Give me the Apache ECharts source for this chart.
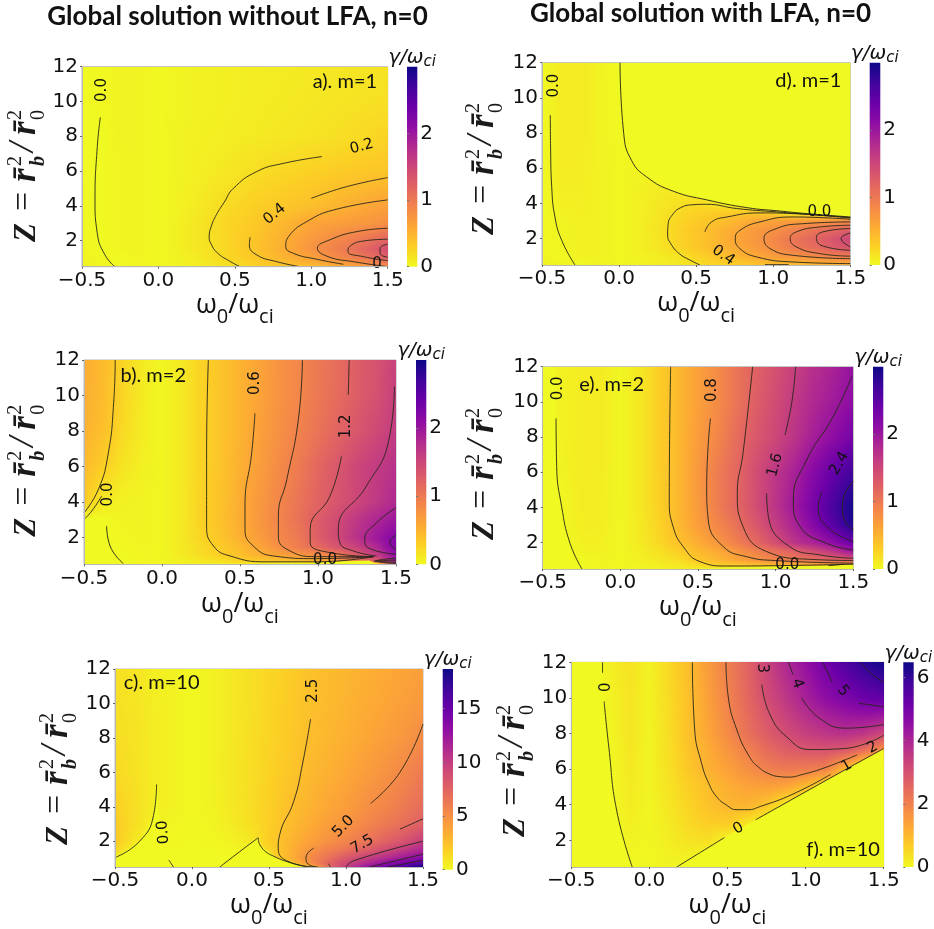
<!DOCTYPE html>
<html><head><meta charset="utf-8">
<style>html,body{margin:0;padding:0;background:#fff}#c{width:934px;height:929px}#c canvas{filter:blur(.35px)}</style>
<script src="https://cdn.jsdelivr.net/npm/echarts@6/dist/echarts.min.js"></script>
</head><body><div id="c"></div>
<script>
// ---------- shared axes ----------
const xCols = [-0.5,-0.375,-0.25,-0.125,0,0.125,0.25,0.375,0.5,0.625,0.75,0.875,1,1.125,1.25,1.375,1.5];
const xTicks = [-0.5,0,0.5,1,1.5];
const yTicks = [2,4,6,8,10,12];

// ---------- panel a ----------
const rowsA = [12,10,8,6,4,3,2,1.5,1,0.5];
const gammaA = [
[.00,.01,.04,.04,.01,.03,.05,.06,.07,.08,.09,.10,.11,.12,.13,.14,.15],
[.00,.01,.04,.04,.01,.03,.05,.06,.07,.09,.10,.11,.12,.14,.15,.17,.18],
[.00,.00,.04,.04,.01,.04,.06,.07,.09,.10,.12,.13,.15,.17,.20,.23,.26],
[.00,.00,.03,.04,.01,.04,.07,.10,.14,.19,.22,.25,.28,.31,.33,.35,.37],
[.01,.00,.03,.04,.01,.05,.10,.18,.24,.29,.33,.37,.41,.47,.53,.60,.65],
[.01,.00,.03,.04,.01,.06,.13,.21,.27,.33,.43,.51,.61,.65,.69,.73,.80],
[.02,.00,.03,.04,.01,.06,.13,.20,.29,.37,.47,.59,.72,.83,.95,1.08,1.25],
[.03,.00,.03,.04,.01,.06,.13,.19,.28,.37,.48,.61,.76,.88,1.03,1.22,1.42],
[.04,.01,.00,.03,.01,.05,.09,.19,.26,.34,.44,.53,.63,.79,.91,1.05,1.25],
[.06,.03,.00,.02,.01,.03,.07,.12,.18,.26,.33,.38,.43,.50,.58,.68,.80]];
const contoursA = [
[[-.38,9.09],[-.40,7.4],[-.415,4.34],[-.40,2.42],[-.35,1.18],[-.285,.5]],
[[.534,.5],[.46,.85],[.385,1.3],[.345,1.8],[.332,2.2],[.345,2.8],[.38,3.5],[.43,4.2],[.49,5.0],[.643,5.97],[.817,6.44],[1.07,6.83]],
[[.6,2.19],[.595,1.75],[.643,1.18],[.774,.79],[.926,.5]],
[[1.0,4.43],[1.23,5.1],[1.5,5.62]],
[[1.21,.64],[1.035,.93],[.883,1.27],[.833,1.66],[.86,2.33],[.97,3.09],[1.145,3.76],[1.5,4.34]],
[[1.5,2.71],[1.3,2.52],[1.12,2.04],[1.04,1.56],[1.11,1.08],[1.275,.79],[1.5,.5]],
[[1.5,2.08],[1.36,2.0],[1.25,1.66],[1.24,1.37],[1.34,1.08],[1.5,.85]],
[[1.5,1.79],[1.45,1.56],[1.45,1.27],[1.5,1.04]]];
const labelsA = [[-.37,10.66,'0.0'],[1.33,7.4,'0.2'],[.76,3.53,'0.4'],[1.43,.66,'0']];
const turnsA = [90,15,40,0];
const zeroA = [];

// ---------- panel b ----------
const rowsB = [12,10,8,6,4,3,2,1.5,1,0.7,0.5];
const gammaB = [
[.55,.44,.25,.10,.02,.12,.26,.38,.50,.62,.77,.88,1.0,1.12,1.27,1.38,1.55],
[.54,.43,.25,.09,.02,.12,.26,.38,.50,.63,.77,.88,1.01,1.13,1.27,1.39,1.58],
[.52,.40,.22,.09,.02,.12,.26,.38,.50,.65,.79,.92,1.05,1.2,1.33,1.48,1.62],
[.44,.30,.14,.06,.02,.12,.26,.38,.52,.68,.84,.99,1.17,1.33,1.5,1.62,1.73],
[.32,.10,.05,.04,.02,.12,.27,.39,.55,.72,.88,1.05,1.21,1.36,1.5,1.65,1.82],
[.00,.00,.04,.04,.02,.12,.27,.40,.55,.73,.90,1.07,1.27,1.46,1.67,1.84,2.0],
[.00,.00,.02,.04,.02,.12,.25,.37,.52,.68,.86,1.0,1.26,1.48,1.72,1.98,2.2],
[.00,.00,.01,.03,.02,.11,.22,.33,.45,.62,.80,.97,1.15,1.37,1.55,1.82,2.25],
[.00,.00,.00,.03,.02,.10,.20,.30,.40,.52,.63,.72,.83,.95,1.3,1.6,2.1],
[.00,.00,.00,.02,.02,.06,.12,.18,.28,.33,.37,.42,.50,.70,1.0,1.3,2.0],
[.00,.00,.00,.01,.01,.03,.06,.08,.10,.10,.10,.10,.10,.10,.15,.2,1.5]];
const contoursB = [
[[-.30,12],[-.31,9.57],[-.344,6.77],[-.408,4.71],[-.5,3.4]],
[[-.387,4.34],[-.45,3.5],[-.5,3.03]],
[[-.355,2.65],[-.333,1.53],[-.248,.54]],
[[.297,12],[.286,6.77],[.286,2.65],[.33,1.53],[.436,.97],[.67,.64],[.99,.64],[1.355,.93]],
[[.596,9],[.575,6.77],[.532,3.78],[.532,2.47],[.585,1.53],[.714,.97],[.99,.82],[1.355,.93]],
[[.9,12],[.874,8.64],[.8,5.27],[.746,3.2],[.746,2.1],[.8,1.35],[.99,.93],[1.355,.93]],
[[1.2,12],[1.194,10.04]],
[[1.15,6.58],[1.077,4.34],[.95,2.47],[.95,1.72],[1.077,1.16],[1.355,.93]],
[[1.49,10.5],[1.45,7.33],[1.31,4.9],[1.13,2.47],[1.14,1.72],[1.227,1.25],[1.376,.97]],
[[1.5,3.68],[1.376,2.84],[1.3,1.9],[1.32,1.44],[1.5,1.07]],
[[1.5,2.13],[1.46,1.72],[1.5,1.31]],
[[1.36,.68],[1.42,.78],[1.5,.84]],
[[1.36,.68],[1.42,.6],[1.5,.55]],
[[1.38,.68],[1.43,.72],[1.5,.74]],
[[1.38,.68],[1.43,.64],[1.5,.62]]];
const labelsB = [[-.344,4.43,'0.0'],[.6,10.7,'0.6'],[1.18,8.26,'1.2'],[1.045,.72,'0.0']];
const turnsB = [90,90,90,0];
const zeroB = [[[-.5,.5],[-.5,3.03],[-.42,3.3],[-.36,2.65],[-.333,1.53],[-.248,.5]],
[[.45,.5],[.7,.57],[1.0,.6],[1.2,.68],[1.33,.72],[1.36,.58],[1.4,.5]]];

// ---------- panel c ----------
const rowsC = [12,10,8,6,4,3,2,1.5,1,0.75,0.5];
const gammaC = [
[1.1,.9,.5,.3,.1,.3,.7,1.1,1.5,1.9,2.4,2.7,3.0,3.3,3.6,3.85,4.1],
[1.15,.9,.5,.3,.1,.3,.7,1.1,1.55,2.0,2.45,2.8,3.1,3.45,3.75,4.1,4.5],
[1.2,1.0,.55,.3,.1,.3,.7,1.15,1.6,2.05,2.6,2.95,3.3,3.7,4.15,4.6,5.2],
[1.4,1.05,.55,.3,.1,.3,.75,1.2,1.7,2.2,2.8,3.2,3.7,4.2,4.8,5.4,6.2],
[1.8,1.2,.5,.3,.1,.25,.7,1.2,1.8,2.5,3.1,3.7,4.2,4.9,5.5,6.2,7.0],
[2.0,1.2,.3,.2,.05,.2,.6,1.1,1.85,2.65,3.4,4.1,4.7,5.4,6.2,6.9,7.8],
[2.2,.8,.1,.1,.05,.1,.3,.7,1.9,2.9,3.9,4.8,5.6,6.4,7.5,8.5,9.9],
[1.5,.3,.05,.05,0,.05,.1,.3,1.6,3.0,4.5,5.7,6.6,7.8,9.0,10.2,11.5],
[.3,.1,.05,0,0,0,0,.1,1.0,3.0,5.0,6.6,8.2,9.7,11,12.3,13.5],
[.1,.05,0,0,0,0,0,0,.5,2.0,4.6,7.2,9.2,11,12.8,14.5,16],
[0,0,0,0,0,0,0,0,0,1.0,2.5,6.8,10,12.4,14.8,16.5,18.5]];
const contoursC = [
[[-.5,1.05],[-.34,2],[-.25,3.5],[-.23,5.3]],
[[-.15,.9],[-.12,.5]],
[[.18,.5],[.31,1.4],[.43,2.2]],
[[.43,2.2],[.44,1.8],[.55,1.05],[.755,.5]],
[[.77,9.1],[.72,6.6],[.66,4.3],[.57,2.4],[.56,1.6],[.615,.87],[.81,.5]],
[[.79,1.6],[.74,1.05],[.755,.67],[.82,.5]],
[[1.16,4.2],[1.35,6],[1.5,8.8]],
[[.885,.7],[.9,.5]],
[[1.35,2.7],[1.5,3.3]],
[[1.0,.5],[1.05,.87],[1.5,2]],
[[1.15,.5],[1.5,1.25]],
[[1.27,.5],[1.5,.9]]];
const labelsC = [[.788,10.74,'2.5'],[.983,2.86,'5.0'],[1.106,1.81,'7.5'],[-.186,2.52,'0.0']];
const turnsC = [90,45,30,95];
const zeroC = [[[-.5,.5],[-.5,1.05],[-.34,2],[-.25,3.5],[-.23,5.3],[-.2,2],[-.12,.5]],
[[.18,.5],[.31,1.4],[.43,2.2],[.44,1.8],[.55,1.05],[.755,.5]]];

// ---------- panel d ----------
const rowsD = [12,8,6,5,4,3.5,3,2.5,2,1.5,1,0.5];
const gammaD = [
[.00,.10,.10,.05,.00,0,0,0,0,0,0,0,0,0,0,0,0],
[.00,.10,.10,.05,.01,0,0,0,0,0,0,0,0,0,0,0,0],
[.00,.10,.09,.05,.02,.04,0,0,0,0,0,0,0,0,0,0,0],
[.00,.08,.08,.05,.02,.05,.09,.08,0,0,0,0,0,0,0,0,0],
[.00,.07,.07,.05,.02,.06,.12,.17,.20,.15,0,0,0,0,0,0,0],
[.00,.05,.07,.05,.02,.06,.12,.21,.27,.30,.31,.33,.25,0,0,0,0],
[.01,.04,.06,.05,.02,.06,.14,.24,.32,.38,.48,.58,.63,.67,.70,.74,.80],
[.01,.03,.06,.05,.02,.06,.15,.26,.36,.46,.57,.70,.78,.90,1.03,1.15,1.27],
[.01,.03,.06,.05,.02,.06,.13,.25,.35,.46,.60,.72,.85,1.02,1.17,1.33,1.5],
[.02,.02,.06,.05,.02,.06,.14,.24,.35,.46,.57,.69,.83,.98,1.12,1.27,1.4],
[.03,.00,.05,.05,.02,.05,.08,.15,.26,.38,.47,.58,.68,.76,.84,.92,1.0],
[.05,.03,.00,.04,.02,.03,.07,.10,.18,.25,.30,.36,.41,.41,.43,.47,.52]];
const contoursD = [
[[-.446,9.02],[-.444,7.03],[-.437,4.94],[-.416,3.23],[-.372,1.9],[-.286,.5]],
[[.006,12],[.03,7.98],[.08,6.46],[.18,5.5],[.35,4.7],[.57,4.2],[.83,3.76],[1.04,3.57],[1.22,3.42],[1.5,3.23]],
[[.525,.5],[.46,.78],[.39,1.15],[.335,1.72],[.315,2.2],[.318,2.8],[.352,3.42],[.40,3.76],[.47,3.92],[.568,3.95],[.763,3.71],[1.02,3.52],[1.5,3.2]],
[[.557,2.38],[.6,2.95],[.7,3.23],[.914,3.46],[1.13,3.42],[1.5,3.17]],
[[.946,.52],[1.1,.52]],
[[1.5,3.1],[1.13,3.23],[.914,2.95],[.784,2.47],[.754,2],[.784,1.43],[.892,.96],[1.13,.67],[1.5,.58]],
[[1.5,2.95],[1.195,2.85],[1.02,2.57],[.94,2],[.98,1.43],[1.13,1.05],[1.5,.86]],
[[1.5,2.76],[1.3,2.66],[1.15,2.38],[1.11,2],[1.15,1.53],[1.3,1.15],[1.5,1.0]],
[[1.5,2.57],[1.37,2.47],[1.28,2.06],[1.31,1.62],[1.5,1.34]],
[[1.5,2.32],[1.44,2],[1.5,1.53]]];
const labelsD = [[-.42,10.7,'0.0'],[1.30,3.48,'0.0'],[.676,1.05,'0.4']];
const turnsD = [90,0,-35];
const zeroD = [[[.006,12],[.03,7.98],[.08,6.46],[.18,5.5],[.35,4.7],[.57,4.2],[.83,3.76],[1.04,3.57],[1.22,3.42],[1.5,3.23],[1.5,12]]];

// ---------- panel e ----------
const rowsE = [12,10,8,6,4,3,2,1.5,1,0.75,0.5];
const gammaE = [
[.00,.05,.10,.10,.02,.12,.30,.47,.65,.83,1.05,1.23,1.40,1.58,1.75,1.88,2.05],
[.00,.05,.10,.10,.02,.12,.30,.47,.65,.83,1.05,1.26,1.45,1.64,1.82,1.96,2.12],
[.00,.05,.10,.10,.02,.12,.30,.47,.68,.87,1.13,1.32,1.50,1.70,1.92,2.12,2.30],
[.00,.04,.10,.09,.02,.12,.30,.47,.72,.97,1.17,1.43,1.67,1.90,2.17,2.45,2.70],
[.00,.02,.09,.08,.02,.12,.28,.47,.70,.95,1.18,1.42,1.70,1.98,2.30,2.65,2.95],
[.00,.02,.08,.08,.02,.11,.26,.46,.67,.87,1.08,1.33,1.60,1.88,2.20,2.55,2.90],
[.00,.00,.06,.07,.02,.10,.23,.39,.55,.72,.95,1.15,1.42,1.70,1.87,2.12,2.40],
[.00,.00,.04,.06,.02,.08,.17,.31,.45,.58,.75,.93,1.10,1.25,1.45,1.70,2.05],
[.01,.00,.00,.04,.02,.06,.12,.20,.37,.47,.60,.75,.90,1.00,1.10,1.20,1.30],
[.02,.00,.00,.03,.02,.04,.08,.12,.20,.30,.35,.40,.45,.48,.55,.60,.70],
[.03,.01,.00,.02,.01,.03,.05,.08,.10,.10,.10,.10,.10,.10,.10,.10,.10]];
const contoursE = [
[[-.414,9.06],[-.41,6.32],[-.378,4.05],[-.324,1.96],[-.247,.5]],
[[.324,12],[.315,4.42],[.34,2.9],[.405,1.77],[.513,.92],[.685,.67],[1.006,.69],[1.5,.77]],
[[.58,9.06],[.556,5.18],[.566,3.29],[.663,1.77],[.813,1.2],[1.0,.98],[1.5,.83]],
[[.852,12],[.79,7.08],[.753,4.8],[.79,2.91],[.942,1.49],[1.22,1.05],[1.5,.98]],
[[1.129,12],[1.103,9.92],[1.06,8.12]],
[[.942,4.8],[.953,3.48],[1.09,1.77],[1.285,1.3],[1.5,1.11]],
[[1.49,11.43],[1.37,9.16],[1.2,6.7],[1.114,4.42],[1.157,2.91],[1.328,1.96],[1.5,1.58]],
[[1.3,4.9],[1.275,4.05],[1.328,2.91],[1.5,2.06]],
[[1.5,5.47],[1.43,4.23],[1.436,3.48],[1.5,2.72]],
[[1.34,.69],[1.44,.77]]];
const labelsE = [[-.4,10.77,'0.0'],[.588,10.67,'0.8'],[.996,6.41,'1.6'],[1.41,6.5,'2.4'],[1.075,.73,'0.0']];
const turnsE = [90,90,75,60,0];
const zeroE = [[[-.5,.5],[-.5,12],[-.414,12],[-.414,9.06],[-.41,6.32],[-.378,4.05],[-.324,1.96],[-.247,.5]],
[[.45,.5],[.7,.6],[1.0,.64],[1.25,.67],[1.5,.75],[1.5,.5]]];

// ---------- panel f ----------
const rowsF = [12,10,8,7,6,5,4,3,2,1,0.5];
const gammaF = [
[0,0,.15,.35,.10,.50,.90,1.50,2.05,2.60,3.30,3.95,4.45,5.05,5.60,6.10,6.45],
[0,0,.10,.30,.10,.45,.85,1.40,1.98,2.50,3.10,3.60,4.10,4.55,4.85,5.15,5.35],
[0,0,.05,.30,.08,.42,.85,1.30,1.80,2.30,2.75,3.10,3.40,3.60,3.75,3.60,3.20],
[0,0,.03,.28,.08,.40,.80,1.20,1.60,2.00,2.40,2.70,2.85,2.90,2.75,2.30,1.50],
[0,0,0,.25,.08,.38,.75,1.10,1.40,1.72,2.03,2.15,2.10,2.00,1.00,0,0],
[0,0,0,.22,.07,.33,.62,.90,1.15,1.35,1.40,1.30,.90,.30,0,0,0],
[0,0,0,.20,.06,.28,.55,.85,1.03,1.10,.80,.20,0,0,0,0,0],
[0,0,0,.15,.05,.22,.48,.65,.70,.30,0,0,0,0,0,0,0],
[0,0,0,.10,.04,.18,.35,.40,.05,0,0,0,0,0,0,0,0],
[0,0,0,.02,.03,.12,.10,0,0,0,0,0,0,0,0,0,0],
[0,0,0,0,.02,.08,0,0,0,0,0,0,0,0,0,0,0]];
const contoursF = [
[[-.3,12],[-.3,11.4]],
[[-.29,9.8],[-.26,7.25],[-.21,3.7],[-.11,.5]],
[[.175,.5],[.48,2.15]],
[[.68,3.15],[1.24,5.9],[1.5,7.15]],
[[.275,12],[.29,8.2],[.335,6.3],[.38,5.2],[.43,4.45],[.49,4.0],[.56,3.72],[.63,3.72],[.71,3.9],[.92,4.6],[1.16,5.7]],
[[.49,12],[.505,10.05],[.56,8.2],[.64,6.7],[.7,6.1],[.77,5.72],[.83,5.58],[.89,5.55],[.98,5.7],[1.13,6.1],[1.33,6.8]],
[[.72,10.75],[.77,9.1],[.88,7.8],[1.03,7.1],[1.24,7.15],[1.5,7.9]],
[[.89,12],[.92,11.3]],
[[.975,10],[1.09,8.85],[1.26,8.3],[1.5,8.5]],
[[1.11,12],[1.17,10.9]],
[[1.34,9.7],[1.5,9.5]],
[[1.35,12],[1.43,11.3],[1.5,10.9]]];
const labelsF = [[-.278,10.6,'0'],[.57,2.66,'0'],[1.263,6.17,'1'],[1.43,7.22,'2'],[.72,11.66,'3'],[.947,10.8,'4'],[1.24,10.4,'5']];
const turnsF = [90,30,30,30,-90,-70,-50];
const zeroF = [[[-.5,.5],[-.11,.5],[-.21,3.7],[-.26,7.25],[-.29,9.8],[-.3,12],[-.5,12]],
[[.175,.5],[.48,2.15],[.68,3.15],[1.24,5.9],[1.5,7.15],[1.5,.5]]];

// ---------- colormap (plasma, reversed) ----------
const plasmaR = ['#f0f921','#fcce25','#fca636','#f2844b','#e16462','#cc4778','#b12a90','#8f0da4','#6a00a8','#41049d','#0d0887'];
const rgbR = plasmaR.map(h=>[parseInt(h.slice(1,3),16),parseInt(h.slice(3,5),16),parseInt(h.slice(5,7),16)]);
function cmap(t){t=Math.max(0,Math.min(1,t))*(rgbR.length-1);const i=Math.min(rgbR.length-2,Math.floor(t)),f=t-i;
  return [0,1,2].map(k=>rgbR[i][k]*(1-f)+rgbR[i+1][k]*f);}

// ---------- layout ----------
const panels = [
 {rows:rowsA,gamma:gammaA,lines:contoursA,marks:labelsA,turns:turnsA,zero:zeroA,tag:'a). m=1',tagAt:[1.22,11.14],box:[82,66.7,387.7,266.7],bar:[407,417.3],vmax:3,ticks:[0,1,2],titleAt:[36,242],gap:23},
 {rows:rowsB,gamma:gammaB,lines:contoursB,marks:labelsB,turns:turnsB,zero:zeroB,tag:'b). m=2',tagAt:[-.056,11.1],box:[84,360,396,564.3],bar:[416,426.3],vmax:3,ticks:[0,1,2],titleAt:[36,536.7],gap:27},
 {rows:rowsC,gamma:gammaC,lines:contoursC,marks:labelsC,turns:turnsC,zero:zeroC,tag:'c). m=10',tagAt:[-.197,11.2],box:[115,669,423,869.7],bar:[442.7,453],vmax:18.7,ticks:[0,5,10,15],titleAt:[68,845],gap:22},
 {rows:rowsD,gamma:gammaD,lines:contoursD,marks:labelsD,turns:turnsD,zero:zeroD,tag:'d). m=1',tagAt:[1.228,11],box:[542,62.7,850.3,265],bar:[869.7,880.3],vmax:3,ticks:[0,1,2],titleAt:[494,235],gap:24},
 {rows:rowsE,gamma:gammaE,lines:contoursE,marks:labelsE,turns:turnsE,zero:zeroE,tag:'e). m=2',tagAt:[-.056,11],box:[542.7,366.7,853.3,569],bar:[873,883.3],vmax:3,ticks:[0,1,2],titleAt:[494,540],gap:25},
 {rows:rowsF,gamma:gammaF,lines:contoursF,marks:labelsF,turns:turnsF,zero:zeroF,tag:'f). m=10',tagAt:[1.24,1.47],box:[571.3,662.3,883.7,867],bar:[903.3,913.7],vmax:6.48,ticks:[0,2,4,6],titleAt:[525,837],gap:24}
];

const INK='#111', FRAME='#b8b8b8', W=934, H=929;
const grids=[],xAxes=[],yAxes=[],series=[],graphics=[];
const rich = {
  w:{fontFamily:'Open Sans',fontSize:27,color:INK,lineHeight:36,verticalAlign:'top'},
  s:{fontFamily:'Open Sans',fontSize:20,color:INK,lineHeight:28,verticalAlign:'bottom'},
  g:{fontFamily:'DejaVu Sans',fontStyle:'italic',fontSize:20,color:INK,lineHeight:24},
  t:{fontFamily:'DejaVu Sans',fontStyle:'italic',fontSize:15,color:INK,lineHeight:18,verticalAlign:'bottom'}
};
const tickText=v=>(v<0?'\u2212':'')+Math.abs(v).toFixed(1);

panels.forEach((p,i)=>{
  const [l,t,r,b]=p.box, gi=i*2, ci=i*2+1;
  grids.push({left:l,top:t,width:r-l,height:b-t,show:true,borderColor:FRAME,borderWidth:1,backgroundColor:'transparent'});
  grids.push({left:p.bar[0],top:t,width:p.bar[1]-p.bar[0],height:b-t});
  xAxes.push({gridIndex:gi,type:'value',min:-.5,max:1.5,z:6,splitLine:{show:false},
    axisLine:{lineStyle:{color:FRAME}},axisTick:{length:2,lineStyle:{color:'#666'},customValues:xTicks},
    axisLabel:{customValues:xTicks,formatter:tickText,fontFamily:'DejaVu Sans',fontSize:20,color:INK,margin:4},
    name:'{w|\u03c9}{s|0}{w|/\u03c9}{s|ci}',nameLocation:'middle',nameGap:p.gap,nameTextStyle:{rich}});
  yAxes.push({gridIndex:gi,type:'value',min:.5,max:12,z:6,splitLine:{show:false},
    axisLine:{onZero:false,lineStyle:{color:FRAME}},axisTick:{length:2,lineStyle:{color:'#666'},customValues:yTicks},
    axisLabel:{customValues:yTicks,fontFamily:'DejaVu Sans',fontSize:20,color:INK,margin:4}});
  xAxes.push({gridIndex:ci,type:'value',min:0,max:1,show:false});
  yAxes.push({gridIndex:ci,type:'value',min:0,max:p.vmax,position:'right',z:6,splitLine:{show:false},
    axisLine:{show:false},axisTick:{length:2,lineStyle:{color:'#777'},customValues:p.ticks},
    axisLabel:{customValues:p.ticks,fontFamily:'DejaVu Sans',fontSize:20,color:INK,margin:3},
    name:'{g|\u03b3/\u03c9}{t|ci}',nameLocation:'end',nameGap:-3,nameTextStyle:{rich,align:'center',padding:[0,0,0,10]}});

  // heat cells: corners
  const cells=[];
  p.rows.forEach((yTop,j)=>{ if(j===p.rows.length-1) return;
    const yBot=p.rows[j+1];
    for(let k=0;k<xCols.length-1;k++)
      cells.push([xCols[k],xCols[k+1],yBot,yTop,p.gamma[j+1][k],p.gamma[j+1][k+1],p.gamma[j][k],p.gamma[j][k+1]]);
  });
  series.push({type:'custom',xAxisIndex:gi,yAxisIndex:gi,z:1,silent:true,data:cells,encode:{x:[0,1],y:[2,3]},
    renderItem:(params,api)=>{
      const a=api.coord([api.value(0),api.value(3)]),c=api.coord([api.value(1),api.value(2)]);
      const x0=Math.round(a[0]),y0=Math.round(a[1]),x1=Math.round(c[0]),y1=Math.round(c[1]);
      const w=x1-x0,h=y1-y0; if(w<=0||h<=0) return null;
      const v00=api.value(4),v10=api.value(5),v01=api.value(6),v11=api.value(7);
      const cv=document.createElement('canvas');cv.width=w;cv.height=h;
      const g=cv.getContext('2d'),im=g.createImageData(w,h);
      for(let py=0;py<h;py++){const fy=(py+.5)/h;
        for(let px=0;px<w;px++){const fx=(px+.5)/w;
          const top=v01*(1-fx)+v11*fx,bot=v00*(1-fx)+v10*fx;
          const rgb=cmap((top*(1-fy)+bot*fy)/p.vmax),o=(py*w+px)*4;
          im.data[o]=rgb[0];im.data[o+1]=rgb[1];im.data[o+2]=rgb[2];im.data[o+3]=255;}}
      g.putImageData(im,0,0);
      return {type:'image',style:{image:cv,x:x0,y:y0,width:w,height:h}};
    }});
  // gamma = 0 regions, filled with the colormap's zero colour
  if(p.zero.length) series.push({type:'custom',xAxisIndex:gi,yAxisIndex:gi,z:2,silent:true,clip:true,
    data:p.zero.map((_,k)=>[k]),encode:{x:[],y:[]},
    renderItem:(params,api)=>({type:'polygon',shape:{points:p.zero[api.value(0)].map(q=>api.coord(q))},style:{fill:plasmaR[0]}})});
  // contour lines
  p.lines.forEach(seg=>series.push({type:'line',xAxisIndex:gi,yAxisIndex:gi,z:3,silent:true,data:seg,showSymbol:false,smooth:.5,
    lineStyle:{color:'#26261a',width:.9},clip:true}));
  // contour labels + panel tag
  series.push({type:'scatter',xAxisIndex:gi,yAxisIndex:gi,z:4,silent:true,symbolSize:0,itemStyle:{opacity:1},
    data:p.marks.map((m,k)=>({name:m[2],value:[m[0],m[1]],label:{rotate:p.turns[k]}})).concat(
      [{name:p.tag,value:p.tagAt,label:{fontFamily:'Lato',fontSize:20}}]),
    label:{show:true,position:'inside',formatter:'{b}',fontFamily:'DejaVu Sans',fontSize:15,color:INK,opacity:1}});
  // colour bar
  series.push({type:'custom',xAxisIndex:ci,yAxisIndex:ci,z:1,silent:true,data:[[0,1,0,p.vmax]],encode:{x:[0,1],y:[2,3]},
    renderItem:(params,api)=>{const a=api.coord([0,p.vmax]),c=api.coord([1,0]);
      return {type:'rect',shape:{x:a[0],y:a[1],width:c[0]-a[0],height:c[1]-a[1]},
        style:{fill:new echarts.graphic.LinearGradient(0,1,0,0,plasmaR.map((col,k)=>({offset:k/(plasmaR.length-1),color:col})))}};}});
  // rotated Z = r_b^2 / r_0^2
  const sf='Liberation Serif';
  const tx=(text,x,y,size,style,weight)=>({type:'text',x,y,style:{text,fill:'#1a1a1a',font:`${style||'normal'} ${weight||'bold'} ${size}px "${sf}"`,verticalAlign:'bottom'}});
  graphics.push({type:'group',x:p.titleAt[0],y:p.titleAt[1],rotation:Math.PI/2,silent:true,children:[
    tx('Z',0,6,31,'italic'),
    tx('=',31,5,34,'normal','normal'),
    tx('r\u0304',60,7,35,'italic'),
    tx('2',76,-10,20,'normal','normal'),
    tx('b',76,13,20,'italic'),
    tx('/',90,6,36,'italic','normal'),
    tx('r\u0304',107,7,35,'italic'),
    tx('2',122,-10,20,'normal','normal'),
    tx('0',122,13,20,'normal','normal')
  ]});
});

const chart=echarts.init(document.getElementById('c'),null,{renderer:'canvas',width:W,height:H});
chart.setOption({
  animation:false,backgroundColor:'#fff',
  title:[
    {text:'Global solution without LFA, n=0',left:232.5,top:-1,textAlign:'center',textStyle:{fontFamily:'Lato',fontWeight:'bold',fontSize:26,color:'#111'}},
    {text:'Global solution with LFA, n=0',left:695.5,top:-4,textAlign:'center',textStyle:{fontFamily:'Lato',fontWeight:'bold',fontSize:26,color:'#111'}}
  ],
  grid:grids,xAxis:xAxes,yAxis:yAxes,series,graphic:{elements:graphics}
});
</script></body></html>
